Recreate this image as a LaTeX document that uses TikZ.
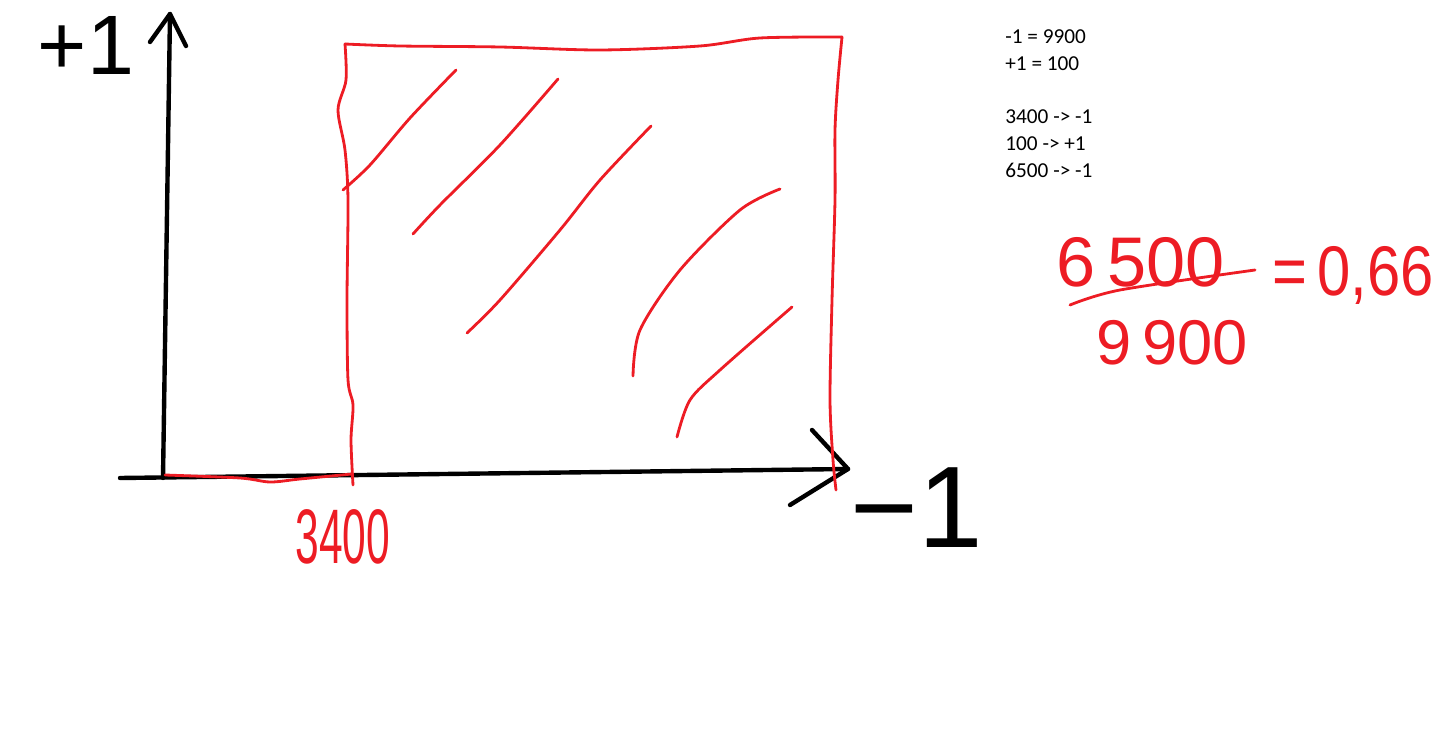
\documentclass[tikz,border=0pt]{standalone}
\usepackage{fontspec}
\setmainfont{Carlito}
\newfontfamily\handfont{Liberation Sans}
\usetikzlibrary{positioning}
\definecolor{paintred}{HTML}{ED1C24}

\begin{document}
\begin{tikzpicture}[
    x=0.02cm, y=-0.02cm,
    achse/.style={line width=2.5pt, black, line cap=round, line join=round},
    stift/.style={line width=1.6pt, paintred, line cap=round, line join=round},
    hand/.style={inner sep=0pt, text=paintred, font=\handfont\fontsize{40}{42}\selectfont},
    schwarz/.style={inner sep=0pt, font=\handfont\fontsize{48}{50}\selectfont},
    notiz/.style={anchor=north west, inner sep=0pt, align=left,
                  font=\fontsize{12.1}{15.3}\selectfont}
  ]
  \useasboundingbox (0,0) rectangle (1452,739);
  % axes
  \coordinate (ursprung) at (163,478);
  \coordinate (ytop)     at (170,14);
  \coordinate (xstart)   at (120,478);
  \coordinate (xend)     at (848,469);
  \draw[achse] (ursprung) -- (ytop);
  \draw[achse] (150,42) -- (ytop) -- (186,46);
  \draw[achse] (xstart) -- (xend);
  \draw[achse] (812,430) -- (xend) -- (790,505);
  \node[schwarz] (plus) at (86,45) {+1};
  \node[schwarz, font=\handfont\fontsize{66}{68}\selectfont] (minus) at (917,508) {−1};
  % red box
  \draw[stift] plot[smooth, tension=0.5] coordinates {(165,475) (240,478) (270,482) (300,479) (352,474)};
  \draw[stift] plot[smooth, tension=0.5] coordinates {(353,485) (351,440) (353,405) (348,380)
    (347,300) (348,200) (345,150) (338,110) (346,80) (345,44)};
  \draw[stift] plot[smooth, tension=0.5] coordinates {(345,44) (400,46) (500,47) (600,50)
    (700,46) (760,38) (842,37)};
  \draw[stift] plot[smooth, tension=0.5] coordinates {(842,37) (838,80) (835,130) (835,200)
    (832,300) (830,400) (833,460) (836,490)};
  % hatching
  \draw[stift] plot[smooth] coordinates {(343,190) (370,165) (410,118) (456,70)};
  \draw[stift] plot[smooth] coordinates {(413,234) (440,205) (500,145) (558,79)};
  \draw[stift] plot[smooth] coordinates {(467,333) (500,300) (560,230) (600,180) (651,126)};
  \draw[stift] plot[smooth] coordinates {(633,376) (640,330) (680,270) (740,210) (780,189)};
  \draw[stift] plot[smooth] coordinates {(677,437) (690,400) (720,370) (792,307)};
  \node[hand, font=\handfont\fontsize{44}{46}\selectfont, xscale=0.55] (wert) at (343,537) {3400};
  % notes
  \node[notiz] (liste) at (1005,29) {-1 = 9900\\+1 = 100\\[15.3pt]3400 -> -1\\100 -> +1\\6500 -> -1};
  \node[hand] (zaehler) at (1141,262) {6\,500};
  \node[hand, font=\handfont\fontsize{36}{38}\selectfont] (nenner) at (1172,343) {9\,900};
  \draw[stift] plot[smooth] coordinates {(1070,305) (1120,290) (1255,270)};
  \node[hand, xscale=0.85] (quote) at (1353,275) {=\,0,66};
\end{tikzpicture}
\end{document}
